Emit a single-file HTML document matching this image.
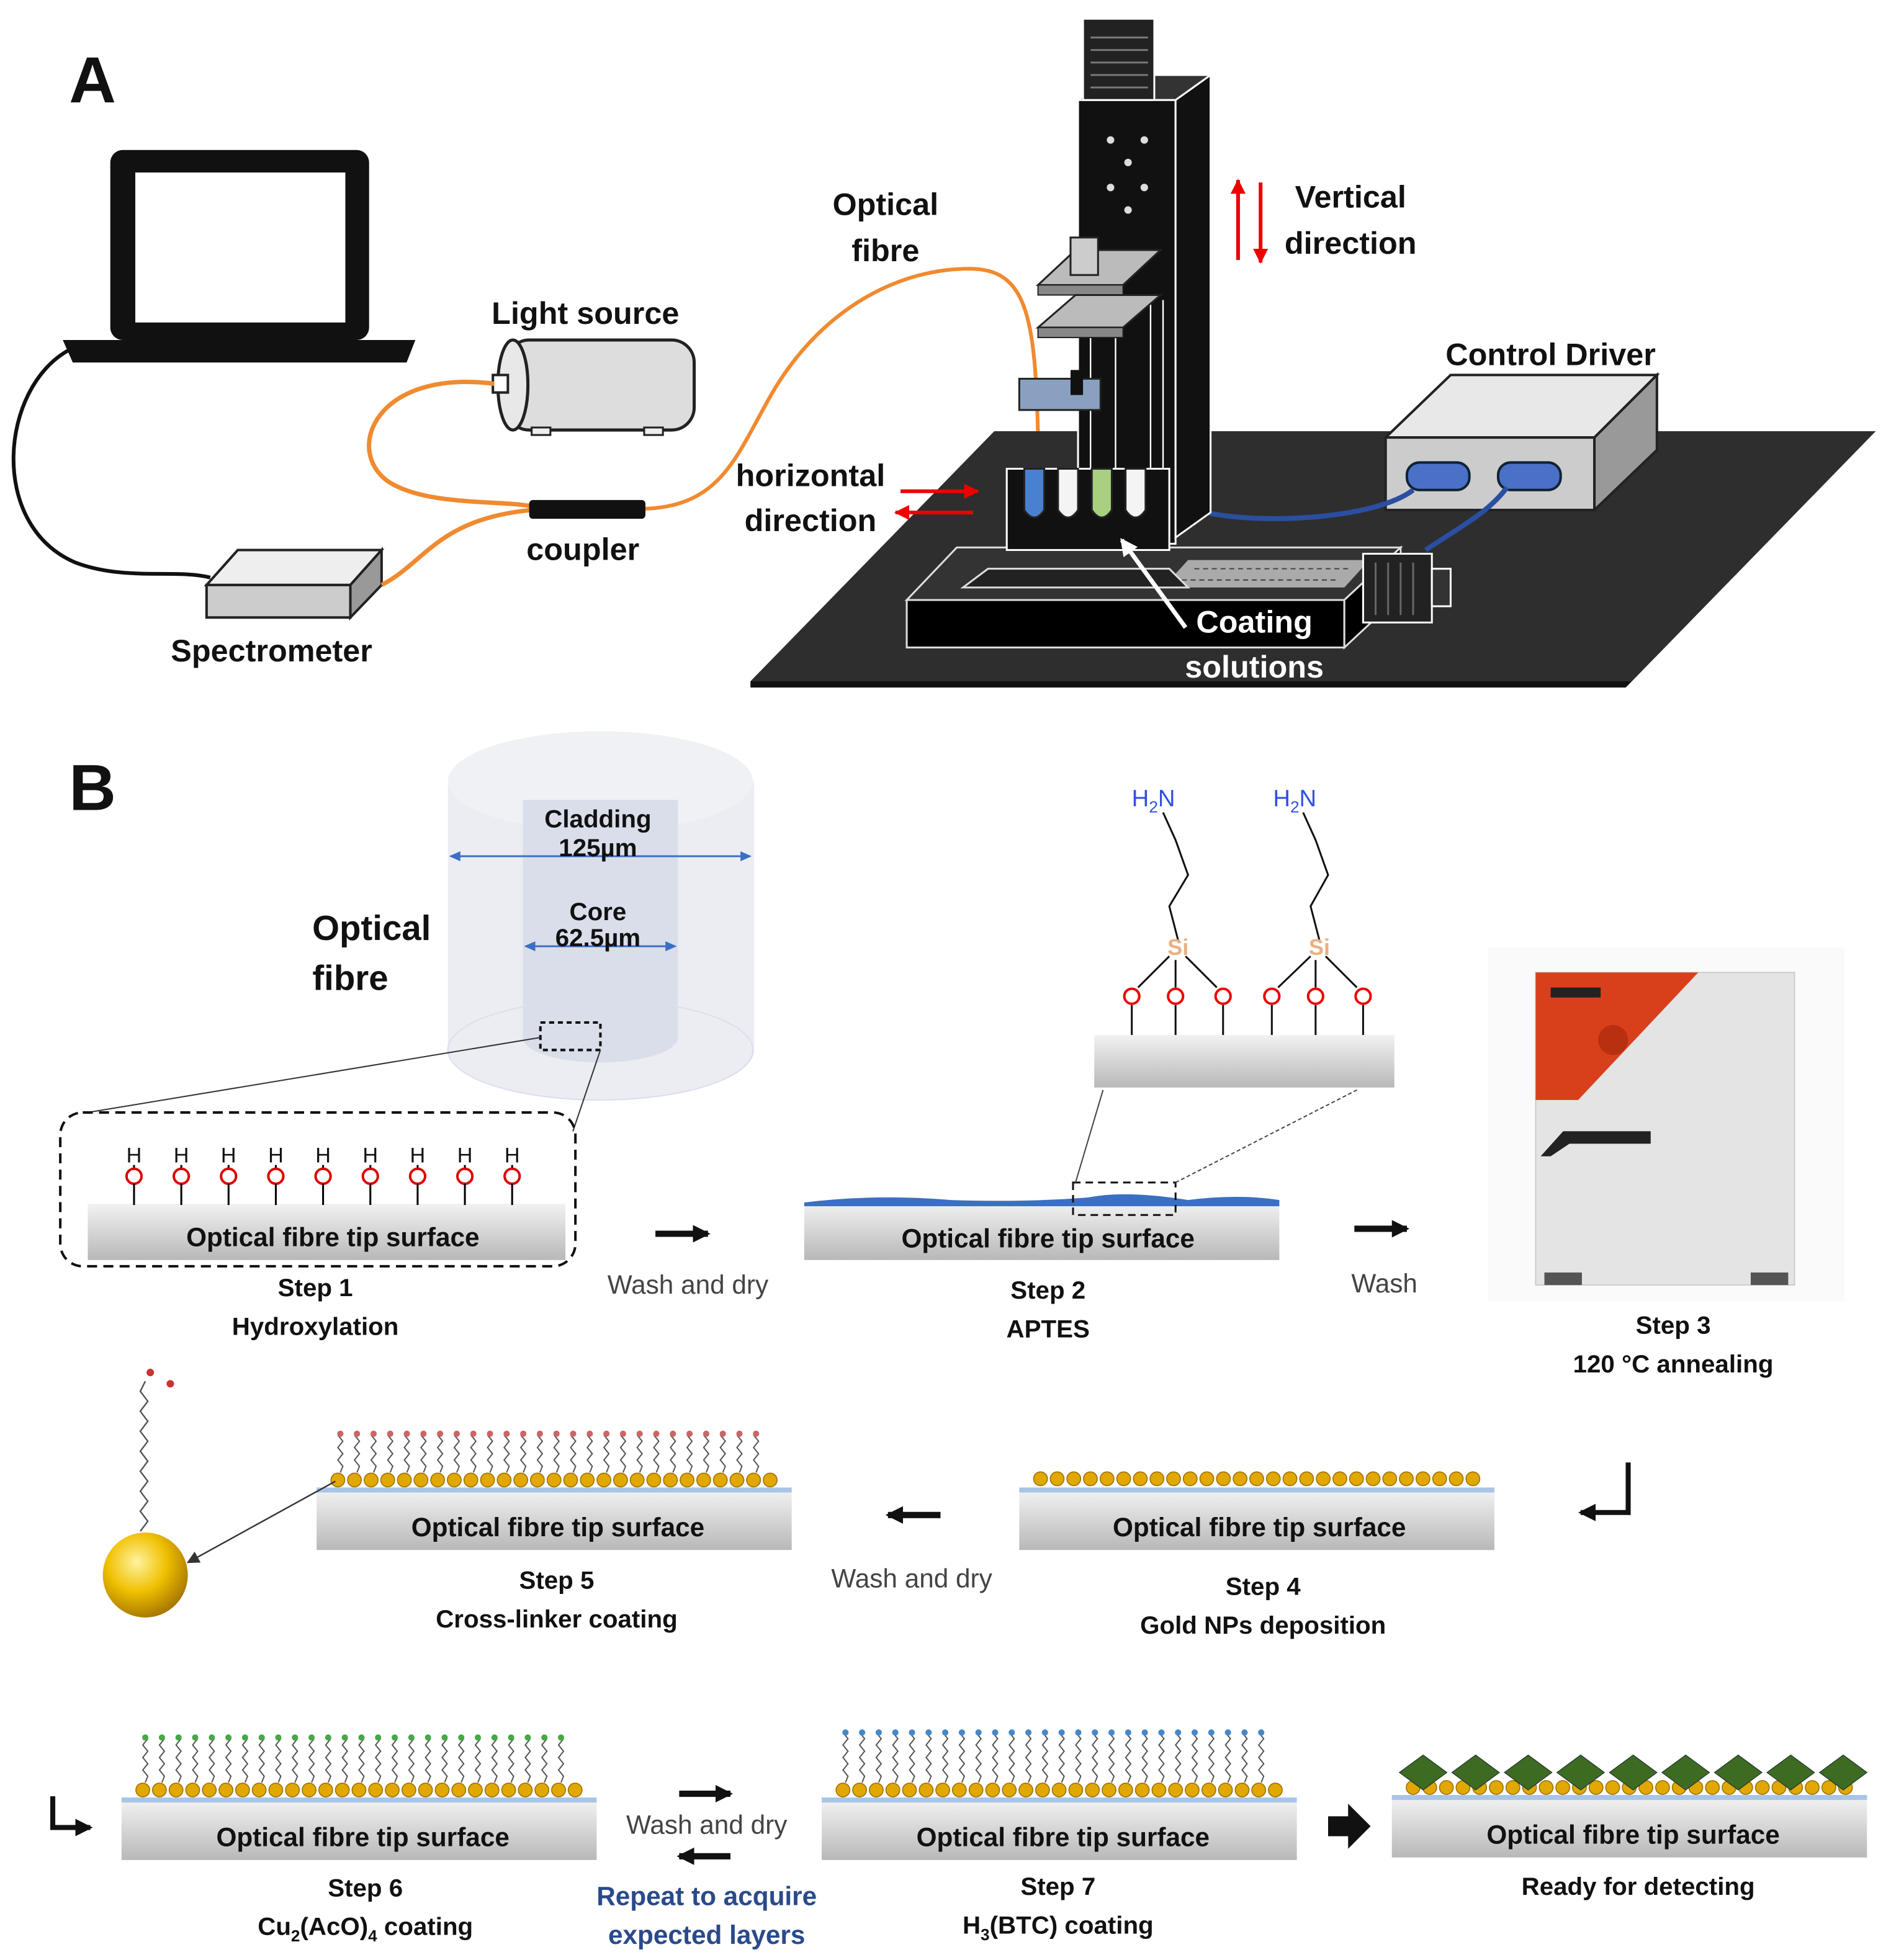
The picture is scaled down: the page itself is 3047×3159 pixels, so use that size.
<!DOCTYPE html>
<html><head><meta charset="utf-8"><style>
html,body{margin:0;padding:0;background:#fff}
svg{display:block}
text{font-family:"Liberation Sans",sans-serif;font-weight:bold;fill:#111}
</style></head><body>
<svg id="s" width="3047" height="3159" viewBox="0 0 1512 1568" xmlns="http://www.w3.org/2000/svg">
<defs>
<linearGradient id="surf" x1="0" y1="0" x2="0" y2="1"><stop offset="0" stop-color="#f2f2f2"/><stop offset="1" stop-color="#b8b8b8"/></linearGradient>
<radialGradient id="gold" cx="0.4" cy="0.35" r="0.7"><stop offset="0" stop-color="#fff3a0"/><stop offset="0.5" stop-color="#f0c000"/><stop offset="1" stop-color="#a07000"/></radialGradient>
<marker id="ah" markerUnits="userSpaceOnUse" markerWidth="9" markerHeight="8" refX="8" refY="4" orient="auto"><path d="M0 0L9 4L0 8Z" fill="#3a6fc4"/></marker>
<marker id="ahr" markerUnits="userSpaceOnUse" markerWidth="12" markerHeight="12" refX="11" refY="6" orient="auto"><path d="M0 0L12 6L0 12Z" fill="#e00"/></marker>
<marker id="ahk" markerUnits="userSpaceOnUse" markerWidth="14" markerHeight="14" refX="12" refY="7" orient="auto"><path d="M0 0L14 7L0 14Z" fill="#111"/></marker>
<marker id="ahs" markerUnits="userSpaceOnUse" markerWidth="10" markerHeight="10" refX="9" refY="5" orient="auto"><path d="M0 0L10 5L0 10Z" fill="#333"/></marker>
<marker id="ahw" markerUnits="userSpaceOnUse" markerWidth="14" markerHeight="14" refX="12" refY="7" orient="auto"><path d="M0 0L14 7L0 14Z" fill="#fff"/></marker>
</defs>

<!-- PANEL A -->
<text x="55" y="82" font-size="52">A</text>
<rect x="88" y="120" width="207" height="152" rx="10" fill="#111"/>
<rect x="108" y="138" width="168" height="120" fill="#fff"/>
<path d="M50 272 H332 L325 290 H58Z" fill="#111"/>
<path d="M55 280 C0 310,-10 420,60 450 C100 465,140 455,168 462" stroke="#111" stroke-width="3" fill="none"/>
<path d="M165 468 L190 440 H305 L280 468Z" fill="#eee" stroke="#222" stroke-width="2"/>
<rect x="165" y="468" width="115" height="26" fill="#ccc" stroke="#222" stroke-width="2"/>
<path d="M280 468 L305 440 V468 L280 494Z" fill="#999" stroke="#222" stroke-width="2"/>
<text x="217" y="529" font-size="25" text-anchor="middle">Spectrometer</text>
<rect x="405" y="272" width="150" height="72" rx="18" fill="#ddd" stroke="#222" stroke-width="2.5"/>
<ellipse cx="410" cy="308" rx="12" ry="36" fill="#e8e8e8" stroke="#222" stroke-width="2.5"/>
<rect x="394" y="300" width="12" height="14" fill="#fff" stroke="#222" stroke-width="2"/>
<rect x="425" y="342" width="15" height="6" fill="#eee" stroke="#222" stroke-width="1.5"/>
<rect x="515" y="342" width="15" height="6" fill="#eee" stroke="#222" stroke-width="1.5"/>
<text x="468" y="259" font-size="25" text-anchor="middle">Light source</text>
<path d="M395 307 C300 295,275 360,310 385 C340 405,400 400,425 405" stroke="#f08a30" stroke-width="3.5" fill="none"/>
<path d="M305 468 C340 450,350 415,425 408" stroke="#f08a30" stroke-width="3.5" fill="none"/>
<path d="M515 407 C580 405,590 360,620 310 C660 245,720 215,775 215 C820 215,828 250,830 350" stroke="#f08a30" stroke-width="3" fill="none"/>
<rect x="423" y="400" width="93" height="15" rx="3" fill="#111"/>
<text x="466" y="448" font-size="25" text-anchor="middle">coupler</text>
<text x="708" y="172" font-size="25" text-anchor="middle">Optical</text>
<text x="708" y="209" font-size="25" text-anchor="middle">fibre</text>
<path d="M600 545 H1305 L1500 345 H795Z" fill="#2e2e2e"/>
<path d="M600 545 H1305 L1300 550 H600Z" fill="#111"/>
<path d="M1108 350 L1160 300 H1325 L1275 350Z" fill="#e8e8e8" stroke="#222" stroke-width="2"/>
<rect x="1108" y="350" width="167" height="58" fill="#ccc" stroke="#222" stroke-width="2"/>
<path d="M1275 350 L1325 300 V360 L1275 408Z" fill="#999" stroke="#222" stroke-width="2"/>
<rect x="1125" y="370" width="50" height="22" rx="10" fill="#4a70c8" stroke="#123" stroke-width="2"/>
<rect x="1198" y="370" width="50" height="22" rx="10" fill="#4a70c8" stroke="#123" stroke-width="2"/>
<path d="M965 410 C1010 420,1100 415,1130 392" stroke="#2a4ea0" stroke-width="4" fill="none"/>
<path d="M1140 440 C1170 420,1190 410,1205 390" stroke="#2a4ea0" stroke-width="4" fill="none"/>
<text x="1240" y="292" font-size="25" text-anchor="middle">Control Driver</text>
<rect x="725" y="480" width="350" height="38" fill="#000" stroke="#ddd" stroke-width="1.5"/>
<path d="M725 480 L765 438 H1120 L1075 480Z" fill="#333" stroke="#ddd" stroke-width="1.5"/>
<path d="M1075 480 L1120 438 V476 L1075 518Z" fill="#000" stroke="#ddd" stroke-width="1.5"/>
<path d="M930 470 L950 448 H1095 L1075 470Z" fill="#aaa"/>
<g stroke="#444" stroke-width="1" stroke-dasharray="4 3"><line x1="955" y1="455" x2="1080" y2="455"/><line x1="945" y1="464" x2="1070" y2="464"/></g>
<rect x="1090" y="443" width="55" height="55" fill="#222" stroke="#fff" stroke-width="1.5"/>
<g stroke="#666" stroke-width="1.5"><line x1="1100" y1="450" x2="1100" y2="492"/><line x1="1110" y1="450" x2="1110" y2="492"/><line x1="1120" y1="450" x2="1120" y2="492"/><line x1="1130" y1="450" x2="1130" y2="492"/></g>
<rect x="1145" y="455" width="15" height="30" fill="#333" stroke="#fff" stroke-width="1.5"/>
<path d="M770 470 H950 L935 455 H790Z" fill="#222" stroke="#ddd" stroke-width="1.5"/>
<rect x="862" y="80" width="78" height="355" fill="#111" stroke="#fff" stroke-width="1.5"/>
<path d="M940 80 L968 60 V410 L940 430Z" fill="#111" stroke="#fff" stroke-width="1.5"/>
<path d="M862 80 L890 60 H968 L940 80Z" fill="#333" stroke="#fff" stroke-width="1.5"/>
<rect x="866" y="15" width="57" height="65" fill="#222" stroke="#fff" stroke-width="1.5"/>
<g stroke="#777" stroke-width="1.5"><line x1="872" y1="30" x2="918" y2="30"/><line x1="872" y1="40" x2="918" y2="40"/><line x1="872" y1="50" x2="918" y2="50"/><line x1="872" y1="60" x2="918" y2="60"/><line x1="872" y1="70" x2="918" y2="70"/></g>
<g fill="#ddd"><circle cx="888" cy="112" r="3"/><circle cx="915" cy="112" r="3"/><circle cx="902" cy="130" r="3"/><circle cx="888" cy="150" r="3"/><circle cx="915" cy="150" r="3"/><circle cx="902" cy="168" r="3"/></g>
<g stroke="#fff" stroke-width="1.2"><line x1="872" y1="260" x2="872" y2="375"/><line x1="892" y1="260" x2="892" y2="375"/><line x1="920" y1="240" x2="920" y2="420"/><line x1="930" y1="240" x2="930" y2="420"/></g>
<path d="M830 228 L860 200 H928 L898 228Z" fill="#bbb" stroke="#222" stroke-width="1.5"/>
<rect x="830" y="228" width="68" height="8" fill="#888" stroke="#222"/>
<rect x="856" y="190" width="22" height="30" fill="#ccc" stroke="#222" stroke-width="1.5"/>
<path d="M830 262 L860 236 H928 L898 262Z" fill="#bbb" stroke="#222" stroke-width="1.5"/>
<rect x="830" y="262" width="68" height="8" fill="#888" stroke="#222"/>
<rect x="815" y="303" width="65" height="25" fill="#8aa0c0" stroke="#222" stroke-width="1.5"/>
<rect x="856" y="296" width="10" height="20" fill="#111"/>
<rect x="805" y="375" width="130" height="65" fill="#111" stroke="#fff" stroke-width="1.5"/>
<g stroke="#222" stroke-width="1.5">
<path d="M819 375 V408 Q827 420 835 408 V375Z" fill="#4a80d0"/>
<path d="M846 375 V408 Q854 420 862 408 V375Z" fill="#f4f4f4"/>
<path d="M873 375 V408 Q881 420 889 408 V375Z" fill="#a8d080"/>
<path d="M900 375 V408 Q908 420 916 408 V375Z" fill="#f4f4f4"/>
</g>
<line x1="990" y1="208" x2="990" y2="144" stroke="#e00" stroke-width="3" marker-end="url(#ahr)"/>
<line x1="1008" y1="146" x2="1008" y2="210" stroke="#e00" stroke-width="3" marker-end="url(#ahr)"/>
<text x="1080" y="166" font-size="25" text-anchor="middle">Vertical</text>
<text x="1080" y="203" font-size="25" text-anchor="middle">direction</text>
<line x1="720" y1="393" x2="782" y2="393" stroke="#e00" stroke-width="3" marker-end="url(#ahr)"/>
<line x1="778" y1="410" x2="716" y2="410" stroke="#e00" stroke-width="3" marker-end="url(#ahr)"/>
<text x="648" y="389" font-size="25" text-anchor="middle">horizontal</text>
<text x="648" y="425" font-size="25" text-anchor="middle">direction</text>
<line x1="948" y1="502" x2="897" y2="432" stroke="#fff" stroke-width="3.5" marker-end="url(#ahw)"/>
<text x="1003" y="506" font-size="25" text-anchor="middle" style="fill:#fff">Coating</text>
<text x="1003" y="542" font-size="25" text-anchor="middle" style="fill:#fff">solutions</text>

<!-- PANEL B -->
<text x="55" y="648" font-size="52">B</text>
<path d="M358 625 V840 A122 40 0 0 0 603 840 V625Z" fill="#e8eaf0" opacity="0.85"/>
<ellipse cx="480" cy="625" rx="122" ry="40" fill="#f0f1f5"/>
<path d="M418 640 V830 A62 20 0 0 0 542 830 V640Z" fill="#dadeea"/>
<ellipse cx="480" cy="840" rx="122" ry="40" fill="none" stroke="#dde" stroke-width="1"/>
<rect x="432" y="818" width="48" height="22" fill="none" stroke="#111" stroke-width="2" stroke-dasharray="4 3"/>
<line x1="362" y1="685" x2="600" y2="685" stroke="#3a6fc4" stroke-width="1.5" marker-end="url(#ah)"/>
<line x1="420" y1="685" x2="360" y2="685" stroke="#3a6fc4" stroke-width="1.5" marker-end="url(#ah)"/>
<line x1="470" y1="757" x2="540" y2="757" stroke="#3a6fc4" stroke-width="1.5" marker-end="url(#ah)"/>
<line x1="470" y1="757" x2="420" y2="757" stroke="#3a6fc4" stroke-width="1.5" marker-end="url(#ah)"/>
<text x="478" y="662" font-size="20" text-anchor="middle">Cladding</text>
<text x="478" y="685" font-size="20" text-anchor="middle">125µm</text>
<text x="478" y="736" font-size="20" text-anchor="middle">Core</text>
<text x="478" y="757" font-size="20" text-anchor="middle">62.5µm</text>
<text x="297" y="752" font-size="28" text-anchor="middle">Optical</text>
<text x="280" y="792" font-size="28" text-anchor="middle">fibre</text>
<line x1="432" y1="830" x2="70" y2="890" stroke="#333" stroke-width="1"/>
<line x1="480" y1="840" x2="458" y2="905" stroke="#333" stroke-width="1"/>
<rect x="48" y="890" width="412" height="123" rx="18" fill="none" stroke="#111" stroke-width="2" stroke-dasharray="8 5"/>
<rect x="70" y="963" width="382" height="45" fill="url(#surf)"/>
<g id="ho"></g>
<text x="266" y="997" font-size="21" text-anchor="middle">Optical fibre tip surface</text>
<text x="252" y="1037" font-size="20" text-anchor="middle">Step 1</text>
<text x="252" y="1068" font-size="20" text-anchor="middle">Hydroxylation</text>
<path d="M524 987 H566" stroke="#111" stroke-width="5" marker-end="url(#ahk)"/>
<text x="550" y="1035" font-size="21" text-anchor="middle" style="font-weight:normal;fill:#444">Wash and dry</text>
<rect x="643" y="962" width="380" height="46" fill="url(#surf)"/>
<path d="M643 962 Q700 955 760 960 Q820 962 870 958 Q900 952 950 960 Q990 955 1023 960 V965 H643Z" fill="#3a6fc4"/>
<rect x="858" y="946" width="82" height="26" fill="none" stroke="#111" stroke-width="1.5" stroke-dasharray="6 4"/>
<line x1="860" y1="946" x2="882" y2="872" stroke="#444" stroke-width="1"/>
<line x1="940" y1="946" x2="1085" y2="872" stroke="#444" stroke-width="1" stroke-dasharray="3 2"/>
<rect x="875" y="828" width="240" height="42" fill="url(#surf)"/>
<g stroke="#111" stroke-width="1.5" fill="none">
<path d="M905 828V804M940 828V804M978 828V804M1017 828V804M1052 828V804M1090 828V804"/>
<path d="M910 790 L935 765 M940 790 V768 M973 790 L948 765 M1022 790 L1048 765 M1052 790 V768 M1085 790 L1060 765"/>
<path d="M942 752 L935 725 L950 700 L940 672 L930 650 M1055 752 L1048 725 L1062 700 L1052 672 L1042 650"/>
</g>
<g fill="none" stroke="#e00" stroke-width="2"><circle cx="905" cy="797" r="6"/><circle cx="940" cy="797" r="6"/><circle cx="978" cy="797" r="6"/><circle cx="1017" cy="797" r="6"/><circle cx="1052" cy="797" r="6"/><circle cx="1090" cy="797" r="6"/></g>
<text x="942" y="764" font-size="18" text-anchor="middle" style="fill:#e9b080">Si</text>
<text x="1055" y="764" font-size="18" text-anchor="middle" style="fill:#e9b080">Si</text>
<text x="905" y="645" font-size="19" style="fill:#3050e0;font-weight:normal">H<tspan font-size="13" dy="5">2</tspan><tspan dy="-5">N</tspan></text>
<text x="1018" y="645" font-size="19" style="fill:#3050e0;font-weight:normal">H<tspan font-size="13" dy="5">2</tspan><tspan dy="-5">N</tspan></text>
<text x="838" y="998" font-size="21" text-anchor="middle">Optical fibre tip surface</text>
<text x="838" y="1039" font-size="20" text-anchor="middle">Step 2</text>
<text x="838" y="1070" font-size="20" text-anchor="middle">APTES</text>
<path d="M1083 983 H1125" stroke="#111" stroke-width="5" marker-end="url(#ahk)"/>
<text x="1107" y="1034" font-size="21" text-anchor="middle" style="font-weight:normal;fill:#444">Wash</text>
<rect x="1190" y="758" width="285" height="283" fill="#fafafa"/>
<rect x="1228" y="778" width="207" height="250" fill="#e4e4e4" stroke="#ccc"/>
<path d="M1228 778 H1358 L1262 880 H1228Z" fill="#d8401c"/>
<rect x="1240" y="790" width="40" height="8" fill="#222"/>
<circle cx="1290" cy="832" r="12" fill="#b83010"/>
<path d="M1232 925 L1250 905 H1320 V915 H1255 L1240 925Z" fill="#222"/>
<rect x="1235" y="1018" width="30" height="10" fill="#555"/><rect x="1400" y="1018" width="30" height="10" fill="#555"/>
<text x="1338" y="1067" font-size="20" text-anchor="middle">Step 3</text>
<text x="1338" y="1098" font-size="20" text-anchor="middle">120 °C annealing</text>
<path d="M1302 1170 V1210 H1264" stroke="#111" stroke-width="4" fill="none" marker-end="url(#ahk)"/>
<rect x="815" y="1192" width="380" height="48" fill="url(#surf)"/>
<rect x="815" y="1190" width="380" height="4" fill="#a8c4e8"/>
<g id="b4"></g>
<text x="1007" y="1229" font-size="21" text-anchor="middle">Optical fibre tip surface</text>
<text x="1010" y="1276" font-size="20" text-anchor="middle">Step 4</text>
<text x="1010" y="1307" font-size="20" text-anchor="middle">Gold NPs deposition</text>
<path d="M752 1212 H710" stroke="#111" stroke-width="5" marker-end="url(#ahk)"/>
<text x="729" y="1270" font-size="21" text-anchor="middle" style="font-weight:normal;fill:#444">Wash and dry</text>
<rect x="253" y="1192" width="380" height="48" fill="url(#surf)"/>
<rect x="253" y="1190" width="380" height="4" fill="#a8c4e8"/>
<g id="b5"></g>
<text x="446" y="1229" font-size="21" text-anchor="middle">Optical fibre tip surface</text>
<text x="445" y="1271" font-size="20" text-anchor="middle">Step 5</text>
<text x="445" y="1302" font-size="20" text-anchor="middle">Cross-linker coating</text>
<line x1="268" y1="1185" x2="150" y2="1250" stroke="#333" stroke-width="1.2" marker-end="url(#ahs)"/>
<circle cx="116" cy="1260" r="34" fill="url(#gold)"/>
<path d="M112 1225 l6-8 l-6-8 l6-8 l-6-8 l6-8 l-6-8 l6-8 l-6-8 l6-8 l-6-8 l6-8 l-6-8 l6-8 l-6-8 l4-8" stroke="#555" stroke-width="1.2" fill="none"/>
<circle cx="120" cy="1098" r="3" fill="#c33"/><circle cx="136" cy="1107" r="3" fill="#c33"/>
<path d="M42 1437 V1462 H72" stroke="#111" stroke-width="4" fill="none" marker-end="url(#ahk)"/>
<rect x="97" y="1440" width="380" height="48" fill="url(#surf)"/>
<rect x="97" y="1438" width="380" height="4" fill="#a8c4e8"/>
<g id="b6"></g>
<text x="290" y="1477" font-size="21" text-anchor="middle">Optical fibre tip surface</text>
<text x="292" y="1517" font-size="20" text-anchor="middle">Step 6</text>
<text x="292" y="1548" font-size="20" text-anchor="middle">Cu<tspan font-size="13" dy="5">2</tspan><tspan dy="-5">(AcO)</tspan><tspan font-size="13" dy="5">4</tspan><tspan dy="-5"> coating</tspan></text>
<path d="M543 1435 H584" stroke="#111" stroke-width="5" marker-end="url(#ahk)"/>
<path d="M584 1485 H543" stroke="#111" stroke-width="5" marker-end="url(#ahk)"/>
<text x="565" y="1467" font-size="21" text-anchor="middle" style="font-weight:normal;fill:#444">Wash and dry</text>
<text x="565" y="1524" font-size="21" text-anchor="middle" style="fill:#2a4a8a">Repeat to acquire</text>
<text x="565" y="1555" font-size="21" text-anchor="middle" style="fill:#2a4a8a">expected layers</text>
<rect x="657" y="1440" width="380" height="48" fill="url(#surf)"/>
<rect x="657" y="1438" width="380" height="4" fill="#a8c4e8"/>
<g id="b7"></g>
<text x="850" y="1477" font-size="21" text-anchor="middle">Optical fibre tip surface</text>
<text x="846" y="1516" font-size="20" text-anchor="middle">Step 7</text>
<text x="846" y="1547" font-size="20" text-anchor="middle">H<tspan font-size="13" dy="5">3</tspan><tspan dy="-5">(BTC) coating</tspan></text>
<path d="M1062 1453 H1078 V1443 L1096 1461 L1078 1479 V1469 H1062Z" fill="#111"/>
<rect x="1113" y="1438" width="380" height="48" fill="url(#surf)"/>
<rect x="1113" y="1436" width="380" height="4" fill="#a8c4e8"/>
<g id="b8"></g>
<text x="1306" y="1475" font-size="21" text-anchor="middle">Optical fibre tip surface</text>
<text x="1310" y="1516" font-size="20" text-anchor="middle">Ready for detecting</text>
</svg>
<script>
var NS="http://www.w3.org/2000/svg";
function el(p,t,a,txt){var e=document.createElementNS(NS,t);for(var k in a)e.setAttribute(k,a[k]);if(txt)e.textContent=txt;document.getElementById(p).appendChild(e);return e;}
for(var i=0;i<9;i++){var x=107+i*37.8;
 el("ho","text",{x:x,y:930,"font-size":17,"text-anchor":"middle",style:"font-weight:normal"},"H");
 el("ho","line",{x1:x,y1:932,x2:x,y2:936,stroke:"#000","stroke-width":1.5});
 el("ho","circle",{cx:x,cy:941,r:6,fill:"none",stroke:"#d00","stroke-width":2});
 el("ho","line",{x1:x,y1:947,x2:x,y2:964,stroke:"#000","stroke-width":1.5});}
function beads(g,x0,x1,y){for(var x=x0;x<=x1;x+=13.3)el(g,"circle",{cx:x,cy:y,r:5.5,fill:"#e0a800",stroke:"#a07000","stroke-width":0.8});}
function chains(g,x0,x1,ytop,ybot,col){for(var x=x0;x<=x1;x+=13.3){var d="M"+x+" "+ybot,y=ybot,s=1;while(y>ytop+4){y-=5;d+=" L"+(x+s*2)+" "+y;s=-s;}
 el(g,"path",{d:d,stroke:"#555","stroke-width":1,fill:"none"});
 if(col)el(g,"circle",{cx:x,cy:ytop+2,r:2.5,fill:col});}}
chains("b5",272,612,1145,1178,"#c66");beads("b5",270,616,1184);
beads("b4",832,1178,1183);
chains("b6",116,456,1388,1426,"#4a4");beads("b6",114,462,1432);
chains("b7",676,1016,1384,1426,"#48c");beads("b7",674,1022,1432);
beads("b8",1130,1478,1430);
for(var x=1138;x<1490;x+=42)el("b8","path",{d:"M"+x+" 1404 L"+(x+19)+" 1418 L"+x+" 1432 L"+(x-19)+" 1418Z",fill:"#3d6b22",stroke:"#233","stroke-width":0.6});
</script>
</body></html>
